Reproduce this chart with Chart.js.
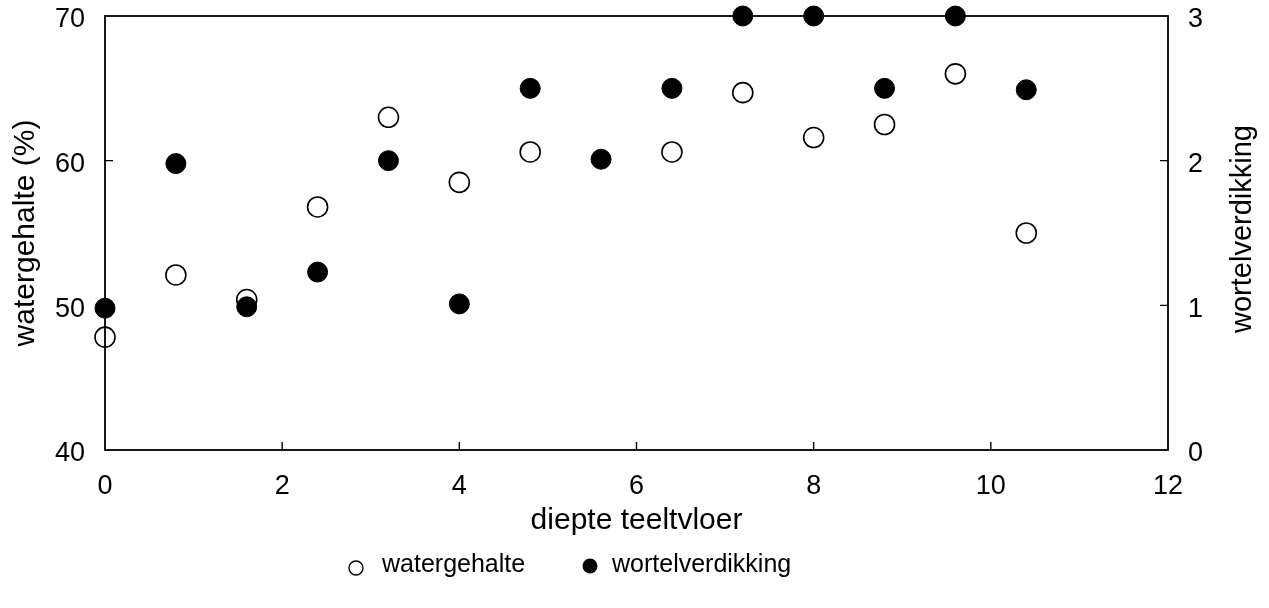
<!DOCTYPE html>
<html>
<head>
<meta charset="utf-8">
<script src="https://cdn.jsdelivr.net/npm/chart.js@4/dist/chart.umd.min.js"></script>
<style>
  html, body { margin: 0; padding: 0; background: #fff; }
  #wrap { width: 1269px; height: 608px; }
</style>
</head>
<body>
<div id="wrap"><canvas id="mycanvas" width="1269" height="608"></canvas></div>
<script>
// data
var depth = [0, 0.8, 1.6, 2.4, 3.2, 4.0, 4.8, 5.6, 6.4, 7.2, 8.0, 8.8, 9.6, 10.4];
var watergehalte = [47.8, 52.1, 50.4, 56.8, 63.0, 58.5, 60.6, null, 60.6, 64.7, 61.6, 62.5, 66.0, 55.0];
var wortelverdikking = [0.98, 1.98, 0.99, 1.23, 2.0, 1.01, 2.5, 2.01, 2.5, 3.0, 3.0, 2.5, 3.0, 2.49];
var xTicks = [0, 2, 4, 6, 8, 10, 12];
var leftTicks = [40, 50, 60, 70];
var rightTicks = [0, 1, 2, 3];

var FONT = "'Liberation Sans', Arial, sans-serif";

function pts(ys) {
    var out = [];
    for (var i in depth) {
        if (ys[i] !== null) out.push({ x: depth[i], y: ys[i] });
    }
    return out;
}

// frame, inward ticks, right title and legend
var extras = {
    id: 'extras',
    afterDatasetsDraw: function(chart) {
        var ctx = chart.ctx, a = chart.chartArea;
        var sx = chart.scales.x, sl = chart.scales.yl, sr = chart.scales.yr;
        ctx.save();
        ctx.strokeStyle = '#000';
        ctx.lineWidth = 1.8;
        ctx.strokeRect(a.left, a.top, a.right - a.left, a.bottom - a.top);
        ctx.lineWidth = 1.4;
        ctx.beginPath();
        xTicks.slice(1, -1).forEach(function(v) {
            var px = sx.getPixelForValue(v);
            ctx.moveTo(px, a.bottom); ctx.lineTo(px, a.bottom - 8);
        });
        leftTicks.slice(1, -1).forEach(function(v) {
            var py = sl.getPixelForValue(v);
            ctx.moveTo(a.left, py); ctx.lineTo(a.left + 8, py);
        });
        rightTicks.slice(1, -1).forEach(function(v) {
            var py = sr.getPixelForValue(v);
            ctx.moveTo(a.right, py); ctx.lineTo(a.right - 8, py);
        });
        ctx.stroke();
        ctx.restore();
    },
    afterDraw: function(chart) {
        var ctx = chart.ctx, a = chart.chartArea;
        ctx.save();
        ctx.fillStyle = '#000';
        ctx.font = '29px ' + FONT;
        // right axis title, reading bottom to top
        ctx.translate(1243, (a.top + a.bottom) / 2 - 4);
        ctx.rotate(-Math.PI / 2);
        ctx.textAlign = 'center';
        ctx.textBaseline = 'middle';
        ctx.fillText('wortelverdikking', 0, 0);
        ctx.restore();

        // legend
        var ly = 565;
        ctx.save();
        ctx.font = '25px ' + FONT;
        ctx.textBaseline = 'middle';
        ctx.strokeStyle = '#000';
        ctx.lineWidth = 1.4;
        ctx.beginPath();
        ctx.arc(356, ly + 3, 7, 0, Math.PI * 2);
        ctx.fillStyle = '#fff';
        ctx.fill();
        ctx.stroke();
        ctx.fillStyle = '#000';
        ctx.fillText(chart.data.datasets[0].label, 382, ly);
        ctx.beginPath();
        ctx.arc(590, ly + 1, 7.5, 0, Math.PI * 2);
        ctx.fill();
        ctx.fillText(chart.data.datasets[1].label, 612, ly);
        ctx.restore();
    }
};

var chartdata = {
    datasets: [{
        label: 'watergehalte',
        data: pts(watergehalte),
        yAxisID: 'yl',
        pointRadius: 10,
        pointHoverRadius: 10,
        pointBackgroundColor: '#fff',
        pointBorderColor: '#000',
        pointBorderWidth: 1.6,
        showLine: false,
        clip: false,
        order: 2
    }, {
        label: 'wortelverdikking',
        data: pts(wortelverdikking),
        yAxisID: 'yr',
        pointRadius: 10,
        pointHoverRadius: 10,
        pointBackgroundColor: '#000',
        pointBorderColor: '#000',
        pointBorderWidth: 1,
        showLine: false,
        clip: false,
        order: 1
    }]
};

Chart.defaults.font.family = FONT;
Chart.defaults.color = '#000';

function fixY(width) {
    return function(s) {
        s.width = width;
        s.paddingTop = 0;
        s.paddingBottom = 0;
    };
}

var ctx = document.getElementById('mycanvas');
var scatter = new Chart(ctx, {
    type: 'scatter',
    data: chartdata,
    plugins: [extras],
    options: {
        responsive: false,
        animation: false,
        layout: { autoPadding: false, padding: { top: 16, bottom: 68, left: 0, right: 0 } },
        plugins: { legend: { display: false }, tooltip: { enabled: false } },
        scales: {
            x: {
                type: 'linear', min: 0, max: 12,
                afterBuildTicks: function(s) { s.ticks = xTicks.map(function(v) { return { value: v }; }); },
                afterFit: function(s) { s.height = 90; },
                grid: { display: false, drawTicks: false },
                border: { display: false },
                ticks: { padding: 20, font: { size: 27 }, maxRotation: 0 },
                title: { display: true, text: 'diepte teeltvloer', font: { size: 30 }, padding: { top: 0, bottom: 1 } }
            },
            yl: {
                type: 'linear', position: 'left', min: 40, max: 70,
                afterBuildTicks: function(s) { s.ticks = leftTicks.map(function(v) { return { value: v }; }); },
                afterFit: fixY(105),
                grid: { display: false, drawTicks: false },
                border: { display: false },
                ticks: { padding: 20, font: { size: 27 }, labelOffset: 4 },
                title: { display: true, text: 'watergehalte (%)', font: { size: 30 }, padding: { top: 8, bottom: 0 } }
            },
            yr: {
                type: 'linear', position: 'right', min: 0, max: 3,
                afterBuildTicks: function(s) { s.ticks = rightTicks.map(function(v) { return { value: v }; }); },
                afterFit: fixY(101),
                grid: { display: false, drawTicks: false },
                border: { display: false },
                ticks: { padding: 20, font: { size: 27 }, labelOffset: 4 }
            }
        }
    }
});
</script>
</body>
</html>
